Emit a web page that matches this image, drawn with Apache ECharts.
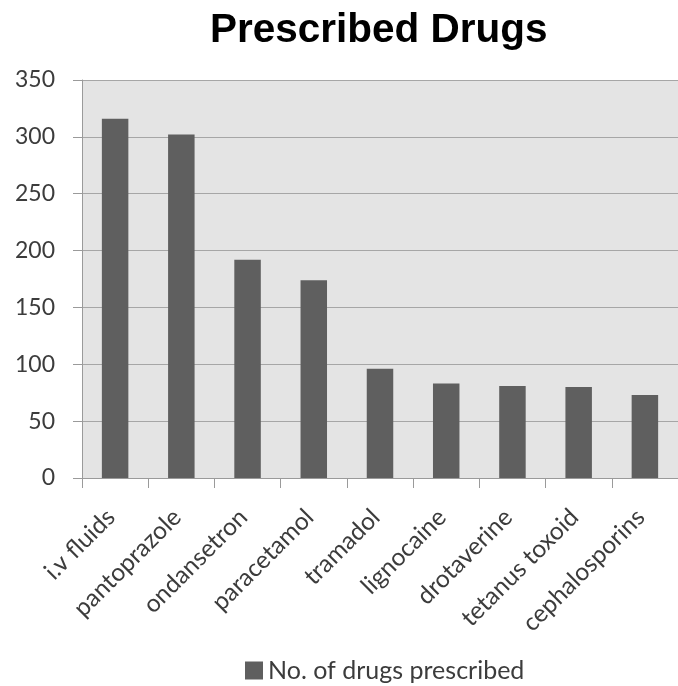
<!DOCTYPE html>
<html>
<head>
<meta charset="utf-8">
<script src="https://cdn.jsdelivr.net/npm/echarts@6/dist/echarts.min.js"></script>
<style>
  html, body { margin: 0; padding: 0; background: #ffffff; }
  #chart { width: 678px; height: 686px; }
</style>
</head>
<body>
<div id="chart"></div>
<script>
// Drug names along the category axis
const drugs = ['i.v fluids', 'pantoprazole', 'ondansetron', 'paracetamol', 'tramadol',
               'lignocaine', 'drotaverine', 'tetanus toxoid', 'cephalosporins'];
// Number of prescriptions for each drug
const prescribed = [316, 302, 192, 174, 96, 83, 81, 80, 73];
// Value axis range
const yMin = 0;
const yMax = 350;
const yStep = 50;

const textColor = '#3c3c3c';
const labelFont = 'Lato, "Open Sans", sans-serif';

const chart = echarts.init(document.getElementById('chart'), null, { renderer: 'canvas' });

chart.setOption({
  animation: false,
  backgroundColor: '#ffffff',
  title: {
    text: 'Prescribed Drugs',
    left: 205,
    top: 5,
    textStyle: {
      fontFamily: '"Liberation Sans", Arial, sans-serif',
      fontWeight: 'bold',
      fontSize: 40.5,
      color: '#000000'
    }
  },
  legend: {
    data: ['No. of drugs prescribed'],
    left: 240,
    top: 653,
    icon: 'rect',
    itemWidth: 18,
    itemHeight: 18,
    textStyle: { fontFamily: labelFont, fontSize: 25, color: textColor }
  },
  grid: {
    left: 82,
    top: 80,
    bottom: 208,
    right: -8,
    show: true,
    backgroundColor: '#e4e4e4',
    borderWidth: 0,
    containLabel: false
  },
  xAxis: {
    type: 'category',
    data: drugs,
    axisLine: { show: true, lineStyle: { color: '#9a9a9a', width: 1 } },
    axisTick: { show: true, length: 10, lineStyle: { color: '#9a9a9a' } },
    axisLabel: {
      interval: 0,
      rotate: 45,
      margin: 31,
      padding: [0, 6, 0, 0],
      fontFamily: labelFont,
      fontSize: 24.5,
      color: textColor
    }
  },
  yAxis: {
    type: 'value',
    min: yMin,
    max: yMax,
    interval: yStep,
    axisLine: { show: true, lineStyle: { color: '#9a9a9a', width: 1 } },
    axisTick: { show: true, length: 9, lineStyle: { color: '#9a9a9a' } },
    splitLine: { show: true, lineStyle: { color: '#a6a6a6', width: 1 } },
    axisLabel: {
      margin: 27,
      fontFamily: labelFont,
      fontSize: 23,
      color: textColor
    }
  },
  series: [{
    name: 'No. of drugs prescribed',
    type: 'bar',
    data: prescribed,
    barWidth: '40%',
    itemStyle: { color: '#5f5f5f' }
  }]
});
</script>
</body>
</html>
